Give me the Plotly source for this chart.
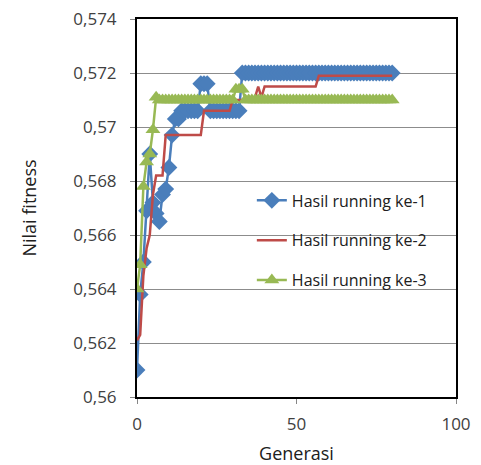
import plotly.graph_objects as go

gen = list(range(0, 81))

run1 = ([0.5610, 0.5638, 0.5650, 0.5669, 0.5690, 0.5672, 0.5668, 0.5665, 0.5675, 0.5677,
         0.5685, 0.5697, 0.5703, 0.5703, 0.5706, 0.5706, 0.5706, 0.5706, 0.5706, 0.5706,
         0.5716, 0.5716, 0.5716, 0.5706, 0.5706, 0.5706, 0.5706, 0.5706, 0.5706, 0.5706,
         0.5706, 0.5706, 0.5706, 0.5720] + [0.5720] * 47)

run2 = ([0.5621, 0.5623, 0.5645, 0.5655, 0.5660, 0.5675, 0.5682, 0.5682, 0.5682, 0.5697]
        + [0.5697] * 11 + [0.5706] * 9 + [0.5710] * 7
        + [0.5711, 0.5715, 0.5711] + [0.5715] * 17 + [0.5719] * 24)

run3 = ([0.5640, 0.5649, 0.5678, 0.5687, 0.5690, 0.5699, 0.5711]
        + [0.5710] * 24 + [0.5714] * 3 + [0.5710] * 47)

names = ["Hasil running ke-1", "Hasil running ke-2", "Hasil running ke-3"]
y_ticks = [0.560, 0.562, 0.564, 0.566, 0.568, 0.570, 0.572, 0.574]
y_labels = ["0,56", "0,562", "0,564", "0,566", "0,568", "0,57", "0,572", "0,574"]
x_ticks = [0, 50, 100]

fig = go.Figure()
fig.add_trace(go.Scatter(x=gen, y=run1, name=names[0], mode="lines+markers",
                         line=dict(color="#4A7EBB", width=2.5),
                         marker=dict(symbol="diamond", size=13, color="#4A7EBB"),
                         legendgroup="a"))
fig.add_trace(go.Scatter(x=gen, y=run2, name=names[1], mode="lines",
                         line=dict(color="#BE4B48", width=2.5),
                         legendgroup="b"))
fig.add_trace(go.Scatter(x=gen, y=run3, name=names[2], mode="lines+markers",
                         line=dict(color="#98B954", width=2.5),
                         marker=dict(symbol="triangle-up", size=13, color="#98B954"),
                         legendgroup="c"))

font_fam = "Open Sans, Liberation Sans, sans-serif"
fig.update_layout(
    width=481, height=465,
    margin=dict(l=137, r=25, t=19, b=68, autoexpand=False),
    paper_bgcolor="white", plot_bgcolor="white",
    font=dict(family=font_fam, size=17, color="#404040"),
    showlegend=True,
    legend=dict(x=0.36, y=0.565, xanchor="left", yanchor="top",
                bgcolor="rgba(0,0,0,0)", tracegroupgap=16,
                font=dict(size=16, color="#202020")),
    xaxis=dict(range=[0, 100], tickvals=x_ticks, showgrid=False, zeroline=False,
               showline=True, linecolor="black", linewidth=2, mirror=True,
               ticks="outside", ticklen=5, tickcolor="#868686", ticklabelstandoff=6,
               title=dict(text="Generasi", font=dict(size=18, color="#202020"), standoff=14)),
    yaxis=dict(range=[0.56, 0.574], tickvals=y_ticks, ticktext=y_labels,
               showgrid=True, gridcolor="#8C8C8C", gridwidth=1, zeroline=False,
               showline=True, linecolor="black", linewidth=2, mirror=True,
               ticks="outside", ticklen=5, tickcolor="#868686", ticklabelstandoff=10,
               title=dict(text="Nilai fitness", font=dict(size=18, color="#202020"), standoff=32)),
)

fig.write_html("out.html")
